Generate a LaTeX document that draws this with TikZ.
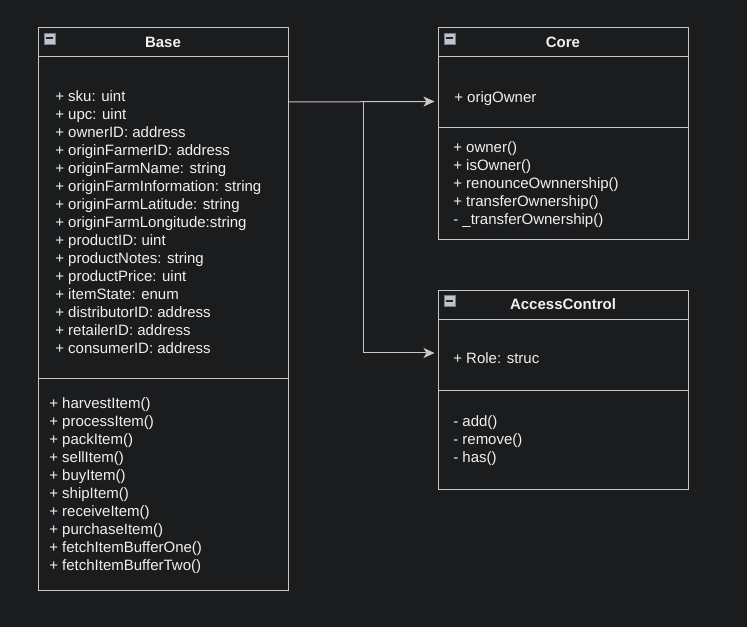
\documentclass[tikz,border=0pt]{standalone}
\usepackage{fontspec}
\setmainfont{Liberation Sans}
\usetikzlibrary{arrows.meta,calc}
\definecolor{bg}{RGB}{27,28,30}
\definecolor{ln}{RGB}{200,200,200}
\definecolor{tx}{RGB}{240,240,240}
\definecolor{icf}{RGB}{190,195,205}
\definecolor{icd}{RGB}{120,125,135}
\begin{document}
\begin{tikzpicture}[x=0.75pt,y=-0.75pt,
  box/.style={draw=ln, line width=0.75pt, anchor=north west, inner sep=0pt, outer sep=0pt, minimum width=187.5pt},
  sep/.style={draw=ln, line width=0.75pt},
  txt/.style={text=tx, anchor=base west, inner sep=0pt, font=\fontsize{11.25}{13.5}\selectfont},
  ttl/.style={text=tx, anchor=base, inner sep=0pt, font=\fontsize{11.25}{13.5}\selectfont\bfseries},
  icon/.style={fill=icf, draw=icd, line width=0.6pt, minimum size=8.25pt, inner sep=0pt,
    path picture={\draw[black!85, line width=1.5pt] ($(path picture bounding box.west)+(2.2,0)$) -- ($(path picture bounding box.east)+(-2.2,0)$);}},
  arr/.style={draw=ln, line width=0.75pt, -{Stealth[length=8.25pt, width=7.5pt, inset=2.2pt, fill=ln]}}
]
\useasboundingbox (0,0) rectangle (747,627);
\fill[bg] (0,0) rectangle (747,627);

% ---------- Base ----------
\node[box, minimum height=421.5pt] (base) at (38,28) {};
\draw[sep] ($(base.north west)+(0,29)$) -- ($(base.north east)+(0,29)$);
\draw[sep] ($(base.north west)+(0,350.5)$) -- ($(base.north east)+(0,350.5)$);
\node[icon] (baseIcon) at (49.5,38.5) {};
\node[ttl] (baseTitle) at (163,47.5) {Base};
\foreach \t [count=\i from 0] in {+ sku: uint, + upc: uint, + ownerID: address, + originFarmerID: address, + originFarmName: string, + originFarmInformation: string, + originFarmLatitude: string, + originFarmLongitude:string, + productID: uint, + productNotes: string, + productPrice: uint, + itemState: enum, + distributorID: address, + retailerID: address, + consumerID: address}
  \node[txt] (baseA\i) at (55,{101.5+18*\i}) {\t};
\foreach \t [count=\i from 0] in {+ harvestItem(), + processItem(), + packItem(), + sellItem(), + buyItem(), + shipItem(), + receiveItem(), + purchaseItem(), + fetchItemBufferOne(), + fetchItemBufferTwo()}
  \node[txt] (baseM\i) at (49,{408.5+18*\i}) {\t};

% ---------- Core ----------
\node[box, minimum height=159pt] (core) at (438,28) {};
\draw[sep] ($(core.north west)+(0,29)$) -- ($(core.north east)+(0,29)$);
\draw[sep] ($(core.north west)+(0,100)$) -- ($(core.north east)+(0,100)$);
\node[icon] (coreIcon) at (449.5,38.5) {};
\node[ttl] (coreTitle) at (563,47.5) {Core};
\node[txt] (coreA0) at (454,102.5) {+ origOwner};
\foreach \t [count=\i from 0] in {+ owner(), + isOwner(), + renounceOwnnership(), + transferOwnership(), - \_transferOwnership()}
  \node[txt] (coreM\i) at (453,{152.5+18*\i}) {\t};

% ---------- AccessControl ----------
\node[box, minimum height=149.25pt] (ac) at (438,290.5) {};
\draw[sep] ($(ac.north west)+(0,29)$) -- ($(ac.north east)+(0,29)$);
\draw[sep] ($(ac.north west)+(0,100)$) -- ($(ac.north east)+(0,100)$);
\node[icon] (acIcon) at (449.5,301) {};
\node[ttl] (acTitle) at (563,310) {AccessControl};
\node[txt] (acA0) at (453,364) {+ Role: struc};
\foreach \t [count=\i from 0] in {- add(), - remove(), - has()}
  \node[txt] (acM\i) at (453,{427+18*\i}) {\t};

% ---------- Connectors ----------
\coordinate (baseOut) at (base.east |- 0,102);
\coordinate (branch) at (363,102);
\coordinate (coreIn) at (434.5,101.5);
\coordinate (acIn) at (434.5,353);
\draw[arr] (baseOut) -- (coreIn);
\draw[arr] (branch) |- (acIn);
\end{tikzpicture}
\end{document}
